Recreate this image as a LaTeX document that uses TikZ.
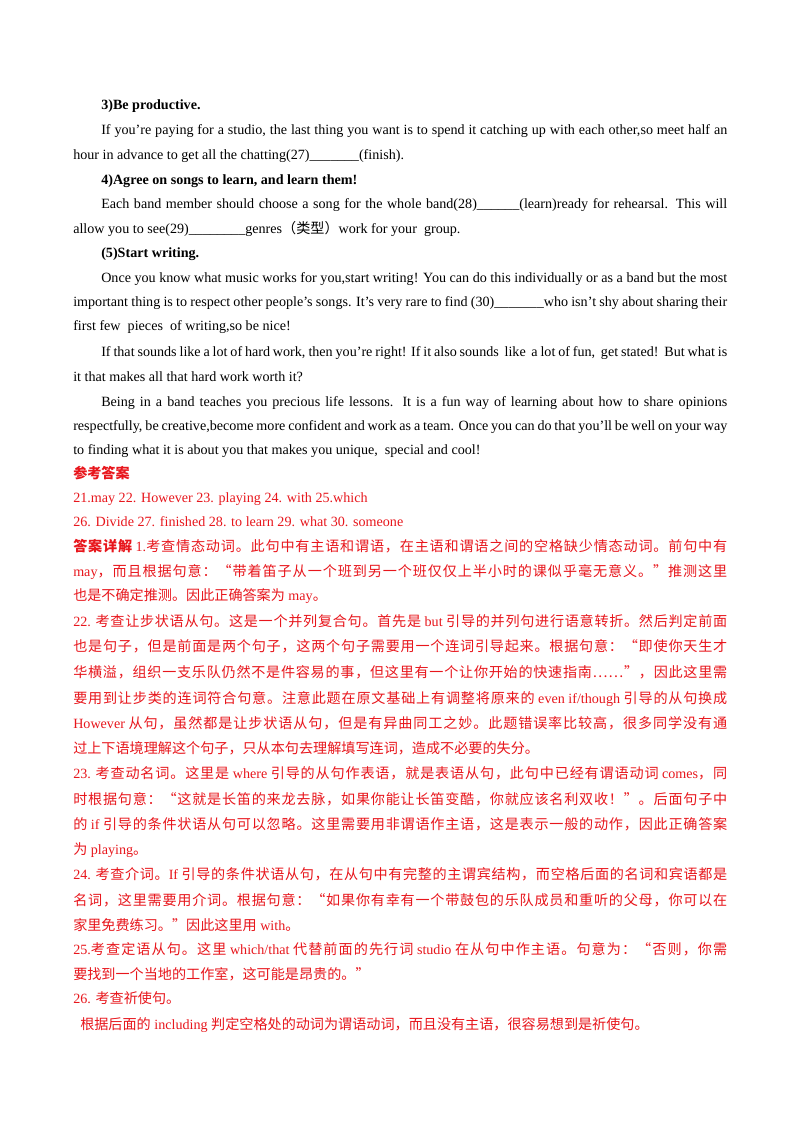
\documentclass[tikz,border=0pt]{standalone}
\usepackage{fontspec}
\setmainfont{Liberation Serif}
\newfontfamily\cjk{Noto Sans CJK SC}
\usepackage{xcolor}
\definecolor{ansred}{RGB}{232,22,28}
\XeTeXinterchartokenstate=1
\newXeTeXintercharclass\cjkclass
\count255="4E00
\loop \XeTeXcharclass\count255=\cjkclass \advance\count255 by 1 \ifnum\count255<"A000 \repeat
\count255="3000
\loop \XeTeXcharclass\count255=\cjkclass \advance\count255 by 1 \ifnum\count255<"3040 \repeat
\count255="FF00
\loop \XeTeXcharclass\count255=\cjkclass \advance\count255 by 1 \ifnum\count255<"FFF0 \repeat
\XeTeXcharclass"201C=\cjkclass
\XeTeXcharclass"201D=\cjkclass
\XeTeXcharclass"2026=\cjkclass
\XeTeXinterchartoks 0 \cjkclass = {\begingroup\cjk}
\XeTeXinterchartoks 4095 \cjkclass = {\begingroup\cjk}
\XeTeXinterchartoks \cjkclass 0 = {\endgroup}
\XeTeXinterchartoks \cjkclass 4095 = {\endgroup}
\XeTeXinterchartoks \cjkclass \cjkclass = {\hskip0pt plus 1fil\relax}
\newcommand\J[3]{\node[txt] (n#1) at (#2,#1+4) {\makebox[\dimexpr 0.744pt*(727-#2)\relax][s]{#3}};}
\newcommand\N[3]{\node[txt] (n#1) at (#2,#1+4) {#3};}
\begin{document}
\begin{tikzpicture}[x=0.744pt,y=-0.744pt,
  txt/.style={anchor=base west,inner sep=0pt,font=\fontsize{10.5pt}{12pt}\selectfont}]
\useasboundingbox[fill=white] (0,0) rectangle (800,1132);
\N{105}{101}{\textbf{3)Be productive.}}
\J{130}{101}{If you're paying for a studio, the last thing you want is to spend it catching up with each other,so meet half an}
\N{155}{73}{hour in advance to get all the chatting(27)\_\_\_\_\_\_\_(finish).}
\N{180}{101}{\textbf{4)Agree on songs to learn, and learn them!}}
\J{204}{101}{Each band member should choose a song for the whole band(28)\_\_\_\_\_\_(learn)ready for rehearsal. This will}
\N{229}{73}{allow you to see(29)\_\_\_\_\_\_\_\_genres（类型）work for your\ \ group.}
\N{253}{101}{\textbf{(5)Start writing.}}
\J{278}{101}{Once you know what music works for you,start writing! You can do this individually or as a band but the most}
\J{302}{73}{important thing is to respect other people's songs. It's very rare to find (30)\_\_\_\_\_\_\_who isn't shy about sharing their}
\N{326}{73}{first few\ \ pieces\ \ of writing,so be nice!}
\J{352}{101}{If that sounds like a lot of hard work, then you're right! If it also sounds\ \ like\ \ a lot of fun,\ \ get stated!\ \ But what is}
\N{377}{73}{it that makes all that hard work worth it?}
\J{402}{101}{Being in a band teaches you precious life lessons. It is a fun way of learning about how to share opinions}
\J{426}{73}{respectfully, be creative,become more confident and work as a team. Once you can do that you'll be well on your way}
\N{450}{73}{to finding what it is about you that makes you unique,\ \ special and cool!}
\begin{scope}[color=ansred]
\N{474}{73}{\textbf{参考答案}}
\N{498}{73}{21.may 22. However 23. playing 24. with 25.which}
\N{522}{73}{26. Divide 27. finished 28. to learn 29. what 30. someone}
\J{547}{73}{\textbf{答案详解} 1.考查情态动词。此句中有主语和谓语，在主语和谓语之间的空格缺少情态动词。前句中有}
\J{572}{73}{may，而且根据句意：“带着笛子从一个班到另一个班仅仅上半小时的课似乎毫无意义。”推测这里}
\N{596}{73}{也是不确定推测。因此正确答案为 may。}
\J{622}{73}{22. 考查让步状语从句。这是一个并列复合句。首先是 but 引导的并列句进行语意转折。然后判定前面}
\J{647}{73}{也是句子，但是前面是两个句子，这两个句子需要用一个连词引导起来。根据句意：“即使你天生才}
\J{673}{73}{华横溢，组织一支乐队仍然不是件容易的事，但这里有一个让你开始的快速指南……”，因此这里需}
\J{699}{73}{要用到让步类的连词符合句意。注意此题在原文基础上有调整将原来的 even if/though 引导的从句换成}
\J{724}{73}{However 从句，虽然都是让步状语从句，但是有异曲同工之妙。此题错误率比较高，很多同学没有通}
\N{749}{73}{过上下语境理解这个句子，只从本句去理解填写连词，造成不必要的失分。}
\J{774}{73}{23. 考查动名词。这里是 where 引导的从句作表语，就是表语从句，此句中已经有谓语动词 comes，同}
\J{800}{73}{时根据句意：“这就是长笛的来龙去脉，如果你能让长笛变酷，你就应该名利双收！”。后面句子中}
\J{825}{73}{的 if 引导的条件状语从句可以忽略。这里需要用非谓语作主语，这是表示一般的动作，因此正确答案}
\N{850}{73}{为 playing。}
\J{875}{73}{24. 考查介词。If 引导的条件状语从句，在从句中有完整的主谓宾结构，而空格后面的名词和宾语都是}
\J{901}{73}{名词，这里需要用介词。根据句意：“如果你有幸有一个带鼓包的乐队成员和重听的父母，你可以在}
\N{926}{73}{家里免费练习。”因此这里用 with。}
\J{950}{73}{25.考查定语从句。这里 which/that 代替前面的先行词 studio 在从句中作主语。句意为：“否则，你需}
\N{975}{73}{要找到一个当地的工作室，这可能是昂贵的。”}
\N{999}{73}{26. 考查祈使句。}
\N{1025}{80}{根据后面的 including 判定空格处的动词为谓语动词，而且没有主语，很容易想到是祈使句。}
\end{scope}
\end{tikzpicture}
\end{document}
